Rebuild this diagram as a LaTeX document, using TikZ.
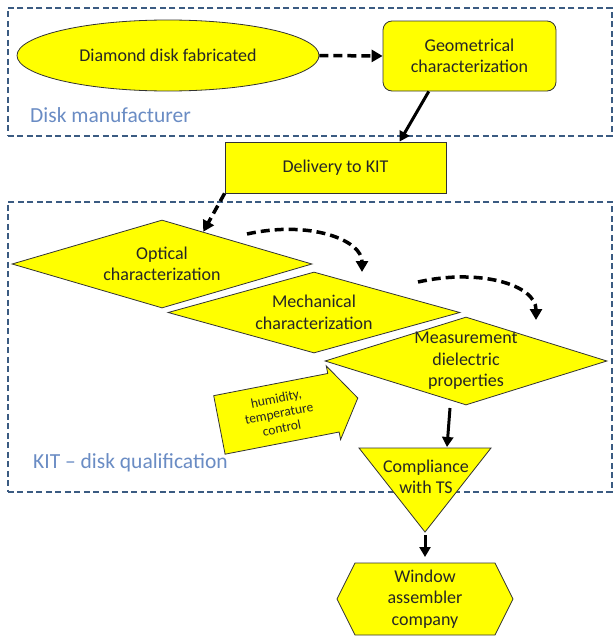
\documentclass[tikz,border=0pt]{standalone}
\usepackage{fontspec}
\setmainfont{Carlito}
\usetikzlibrary{shapes.geometric,shapes.arrows,arrows.meta}
\definecolor{boxyellow}{HTML}{FFFF00}
\definecolor{grpline}{HTML}{3B5B82}
\definecolor{grplbl}{HTML}{6A8CC4}
\definecolor{txt}{HTML}{262626}
\begin{document}
\begin{tikzpicture}[x=1pt,y=-1pt,
  grp/.style={draw=grpline, line width=1.8pt, dash pattern=on 6pt off 3.5pt, inner sep=0pt, anchor=north west},
  grplabel/.style={text=grplbl, font=\fontsize{21.5}{25}\selectfont, anchor=west, inner sep=0pt},
  ybox/.style={fill=boxyellow, draw=black!80, line width=0.8pt, text=txt, font=\fontsize{18}{21.5}\selectfont, align=center, inner sep=0pt},
  ytext/.style={text=txt, font=\fontsize{18}{21.5}\selectfont, align=center, inner sep=0pt},
  flow/.style={line width=3pt, -{Triangle[length=10pt,width=11pt]}},
  dflow/.style={line width=3.5pt, dash pattern=on 9pt off 5pt, -{Triangle[length=11pt,width=12pt]}},
]
\useasboundingbox (0,0) rectangle (613,637);
\fill[white] (0,0) rectangle (613,637);
% groups
\node[grp, minimum width=604pt, minimum height=128pt] (mfrgrp) at (7,7) {};
\node[grp, minimum width=604pt, minimum height=290pt] (kitgrp) at (7,201) {};
\node[grplabel] (mfrlbl) at (30,115) {Disk manufacturer};
\node[grplabel] (kitlbl) at (33,463) {KIT – disk qualification};
% top nodes
\node[ybox, ellipse, minimum width=302pt, minimum height=71pt] (fab) at (168,55.5) {Diamond disk fabricated};
\node[ybox, rounded corners=9pt, minimum width=173pt, minimum height=70pt] (geo) at (469.5,56) {Geometrical\\characterization};
\node[ybox, minimum width=221pt, minimum height=51pt] (kit) at (335.5,167.5) {Delivery to KIT};
% diamonds
\node[ybox, diamond, minimum width=300pt, minimum height=88pt] (opt) at (162,264) {};
\node[ytext] (optt) at (opt.center) {Optical\\characterization};
\node[ybox, diamond, minimum width=292pt, minimum height=81pt] (mech) at (314,312.5) {};
\node[ytext] (mecht) at (mech.center) {Mechanical\\characterization};
\node[ybox, diamond, minimum width=282pt, minimum height=88pt] (meas) at (466,361) {};
\node[ytext] (meast) at (meas.center) {Measurement\\dielectric\\properties};
% humidity arrow
\node[ybox, single arrow, rotate=11, anchor=tail, minimum height=141pt, minimum width=75pt, single arrow head extend=7pt, single arrow tip angle=113, inner ysep=7pt, inner xsep=4pt, font=\fontsize{13.5}{15}\selectfont] (hum) at (219,425) {humidity,\\temperature\\control};
% compliance triangle
\coordinate (cmptl) at (359,448);
\coordinate (cmptr) at (491,448);
\coordinate (cmpb) at (425,532);
\draw[ybox] (cmptl) -- (cmptr) -- (cmpb) -- cycle;
\node[ytext] (cmp) at (426,477) {Compliance\\with TS};
% window hexagon
\coordinate (w1) at (337,599);
\coordinate (w2) at (355,563);
\coordinate (w3) at (495,563);
\coordinate (w4) at (513,599);
\coordinate (w5) at (495,635);
\coordinate (w6) at (355,635);
\draw[ybox] (w1) -- (w2) -- (w3) -- (w4) -- (w5) -- (w6) -- cycle;
\node[ytext] (win) at (425,599) {Window\\assembler\\company};
% connectors
\draw[dflow] (fab.east) -- (geo.west);
\draw[flow] (geo.221.5) -- (kit.22.5);
\draw[dflow] (kit.south west) -- (opt.38);
\coordinate (c1s) at (247,234);
\coordinate (c1e) at (362,272);
\draw[dflow] (c1s) .. controls (310,220) and (362,240) .. (c1e);
\coordinate (c2s) at (418,282);
\coordinate (c2e) at (536,320);
\draw[dflow] (c2s) .. controls (480,268) and (536,285) .. (c2e);
\coordinate (m1) at (450,408);
\coordinate (m2) at (447,447);
\draw[flow] (m1) -- (m2);
\coordinate (wtop) at (425,557);
\draw[flow] ([yshift=-3pt]cmpb) -- (wtop);
\end{tikzpicture}
\end{document}
